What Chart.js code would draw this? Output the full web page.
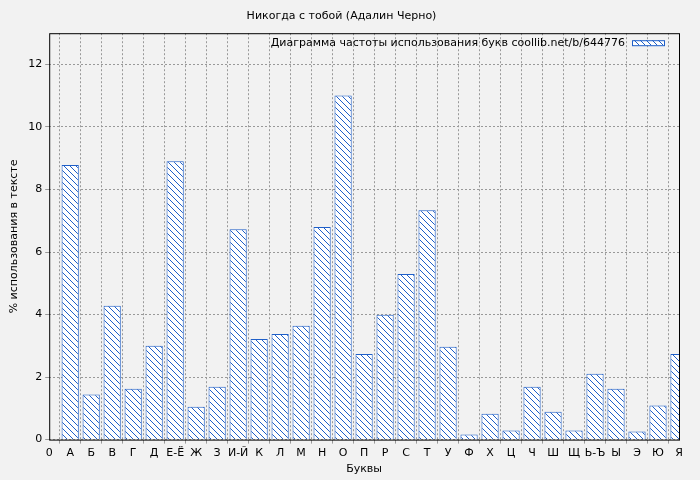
<!DOCTYPE html><html><head><meta charset="utf-8">
<script src="https://cdn.jsdelivr.net/npm/chart.js@4"></script>
<style>html,body{margin:0;background:#f2f2f2}#w{width:700px;height:480px}</style></head><body><div id="w"><canvas id="c"></canvas></div>
<script>
const tickLabels=['0','А','Б','В','Г','Д','Е-Ё','Ж','З','И-Й','К','Л','М','Н','О','П','Р','С','Т','У','Ф','Х','Ц','Ч','Ш','Щ','Ь-Ъ','Ы','Э','Ю','Я'];
const values=[8.78,1.44,4.28,1.63,3.0,8.9,1.05,1.69,6.73,3.22,3.38,3.64,6.8,11.01,2.74,3.99,5.3,7.34,2.97,0.16,0.83,0.29,1.69,0.89,0.29,2.11,1.63,0.26,1.09,2.74];
const seriesName='Диаграмма частоты использования букв coollib.net/b/644776';
const titleText='Никогда с тобой (Адалин Черно)';
let pat;
function hatch(){const c=document.createElement('canvas');c.width=c.height=6;const g=c.getContext('2d');g.fillStyle='#fff';g.fillRect(0,0,6,6);g.strokeStyle='#1f5fc8';g.lineWidth=1;g.beginPath();g.moveTo(-1,-1);g.lineTo(7,7);g.moveTo(-1,5);g.lineTo(1,7);g.moveTo(5,-1);g.lineTo(7,1);g.stroke();return g.createPattern(c,'repeat');}
pat=hatch();
const F={family:'DejaVu Sans',size:11};
const frame={id:'frame',afterDraw(ch){const a=ch.chartArea,x=ch.ctx;x.save();x.strokeStyle='#000';x.lineWidth=1;x.strokeRect(a.left+0.5,a.top+0.5,a.right-a.left,a.bottom-a.top);
// legend
const bx=a.right-47,by=a.top+7;x.fillStyle=pat;x.fillRect(bx,by,32,5);x.strokeStyle='#1f5fc8';x.strokeRect(bx+0.5,by+0.5,32,5);
x.fillStyle='#000';x.font='11px "DejaVu Sans"';x.textAlign='right';x.textBaseline='middle';x.fillText(seriesName,bx-7,by+3);x.restore();}};
const bg={id:'bg',beforeDraw(ch){const x=ch.ctx;x.save();x.fillStyle='#f2f2f2';x.fillRect(0,0,ch.width,ch.height);x.restore();}};
new Chart(document.getElementById('c'),{type:'bar',
data:{datasets:[{label:seriesName,data:values.map((v,i)=>({x:i+1,y:v})),backgroundColor:pat,borderColor:'#1f5fc8',borderWidth:1,barPercentage:0.82,categoryPercentage:1}]},
options:{responsive:true,maintainAspectRatio:false,animation:false,layout:{padding:{top:0,right:21,left:4,bottom:0}},
plugins:{title:{display:true,text:titleText,color:'#000',font:{family:'DejaVu Sans',size:11,weight:'normal'},padding:{top:10,bottom:10}},
legend:{display:false},tooltip:{enabled:false}},
scales:{x:{type:'linear',min:0,max:30,offset:false,grid:{color:'#999',tickLength:4},border:{display:false,dash:[2,2]},
ticks:{stepSize:1,autoSkip:false,maxRotation:0,color:'#000',font:F,callback:v=>tickLabels[v]},title:{display:true,text:'Буквы',color:'#000',font:F,padding:{top:0}}},
y:{min:0,max:13,grid:{color:'#999',tickLength:4},border:{display:false,dash:[2,2]},afterBuildTicks:s=>{s.ticks=s.ticks.filter(t=>t.value<=12);},ticks:{stepSize:2,color:'#000',font:F},title:{display:true,text:'% использования в тексте',color:'#000',font:F}}}},
plugins:[bg,frame]});
</script></body></html>
